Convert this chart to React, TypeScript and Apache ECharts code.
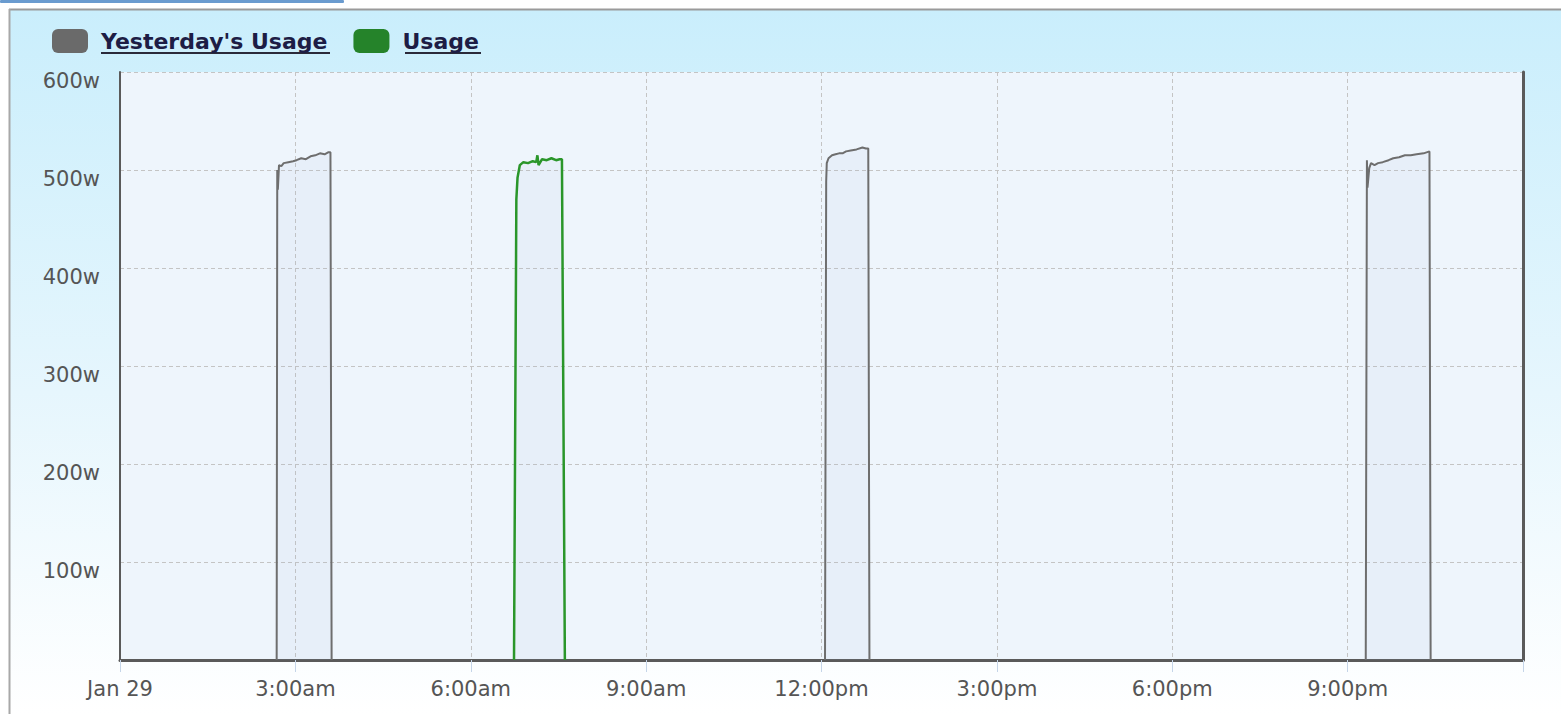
import React, { useEffect, useRef } from "react";
import * as echarts from "echarts";

// hours since midnight, watts
const yesterdayBlocks: number[][][] = [
  [[2.68, 0], [2.69, 500], [2.70, 480], [2.72, 505], [2.76, 504], [2.80, 507], [2.88, 508], [2.96, 509], [3.02, 510], [3.10, 512], [3.18, 511], [3.26, 514], [3.34, 515], [3.42, 517], [3.50, 516], [3.56, 518], [3.60, 518], [3.62, 0]],
  [[12.06, 0], [12.08, 488], [12.09, 507], [12.12, 512], [12.18, 515], [12.24, 516], [12.30, 517], [12.36, 517], [12.42, 519], [12.50, 520], [12.60, 521], [12.70, 523], [12.76, 522], [12.80, 522], [12.82, 0]],
  [[21.31, 0], [21.33, 510], [21.34, 482], [21.37, 502], [21.40, 507], [21.46, 505], [21.52, 507], [21.60, 508], [21.70, 510], [21.78, 512], [21.88, 513], [21.98, 515], [22.08, 515], [22.18, 516], [22.30, 517], [22.40, 519], [22.42, 0]],
];
const usageData: number[][] = [
  [6.74, 0], [6.78, 470], [6.80, 492], [6.84, 505], [6.90, 508], [6.98, 507], [7.06, 509], [7.12, 508], [7.14, 515], [7.16, 505], [7.22, 511], [7.30, 510], [7.38, 512], [7.46, 510], [7.52, 511], [7.56, 511], [7.61, 0],
];
const xTickLabels: Record<number, string> = {
  0: "Jan 29", 3: "3:00am", 6: "6:00am", 9: "9:00am", 12: "12:00pm", 15: "3:00pm", 18: "6:00pm", 21: "9:00pm", 24: "",
};
const yTickValues = [100, 200, 300, 400, 500, 600];

const FONT = "DejaVu Sans";

export default function App() {
  const ref = useRef<HTMLDivElement>(null);
  useEffect(() => {
    if (!ref.current) return;
    const chart = echarts.init(ref.current, undefined, { renderer: "svg" });
    const grayColor = "#6e6e6e";
    const greenColor = "#2a962a";
    const yesterdaySeries = yesterdayBlocks.map((blk) => ({
      name: "Yesterday's Usage",
      type: "line",
      data: blk,
      showSymbol: false,
      symbol: "none",
      lineStyle: { color: grayColor, width: 2 },
      itemStyle: { color: "#6a6a6a" },
      areaStyle: { color: "rgba(160,185,215,0.12)" },
      z: 3,
    }));
    chart.setOption({
      animation: false,
      backgroundColor: new echarts.graphic.LinearGradient(0, 0, 0, 1, [
        { offset: 0, color: "#c9eefc" },
        { offset: 0.55, color: "#e6f6fd" },
        { offset: 1, color: "#ffffff" },
      ]),
      legend: {
        left: 52,
        top: 29,
        padding: 0,
        itemWidth: 36,
        itemHeight: 24,
        itemGap: 26,
        icon: "roundRect",
        textStyle: { fontFamily: FONT, fontSize: 22, fontWeight: "bold", color: "#1d1d45", padding: [0, 0, 0, 8] },
        data: [
          { name: "Yesterday's Usage", itemStyle: { color: "#6a6a6a" } },
          { name: "Usage", itemStyle: { color: "#25832a" } },
        ],
      },
      grid: {
        left: 120, top: 72, right: 38, bottom: 54,
        show: true, backgroundColor: "#eef5fc", borderWidth: 0,
      },
      xAxis: {
        type: "value", min: 0, max: 24, interval: 3,
        axisLine: { show: true, lineStyle: { color: "#5a5a5a", width: 3 } },
        axisTick: { show: true, length: 12, lineStyle: { color: "#c5d5e8", width: 1 } },
        axisLabel: {
          fontFamily: FONT, fontSize: 21, color: "#555", margin: 18,
          formatter: (v: number) => xTickLabels[v] ?? "",
        },
        splitLine: { show: true, lineStyle: { color: "#c4c4c4", type: [4, 3], width: 1 } },
      },
      yAxis: [
        {
          type: "value", min: 0, max: 600, interval: 100,
          axisLine: { show: true, lineStyle: { color: "#5a5a5a", width: 2 } },
          axisTick: { show: false },
          axisLabel: {
            fontFamily: FONT, fontSize: 21, color: "#555", margin: 20,
            verticalAlign: "top", lineHeight: 17,
            formatter: (v: number) => (yTickValues.includes(v) ? `${v}w` : ""),
          },
          splitLine: { show: true, lineStyle: { color: "#c4c4c4", type: [4, 3], width: 1 } },
        },
        {
          type: "value", min: 0, max: 600, interval: 100, position: "right",
          axisLine: { show: true, lineStyle: { color: "#5a5a5a", width: 3 } },
          axisTick: { show: false }, axisLabel: { show: false }, splitLine: { show: false },
        },
      ],
      graphic: [
        { type: "rect", shape: { x: 0, y: 0, width: 1561, height: 9 }, style: { fill: "#ffffff" }, z: 1 },
        { type: "rect", shape: { x: 0, y: 0, width: 9, height: 714 }, style: { fill: "#ffffff" }, z: 1 },
        { type: "line", shape: { x1: 9, y1: 9.5, x2: 1561, y2: 9.5 }, style: { stroke: "#9a9a9a", lineWidth: 2 }, z: 1 },
        { type: "line", shape: { x1: 9.5, y1: 9, x2: 9.5, y2: 714 }, style: { stroke: "#a8a8a8", lineWidth: 2 }, z: 1 },
        { type: "rect", shape: { x: 0, y: 0, width: 344, height: 3, r: 1 }, style: { fill: "#6a9bcf" }, z: 1 },
        { type: "line", shape: { x1: 101, y1: 53, x2: 330, y2: 53 }, style: { stroke: "#2a2a3a", lineWidth: 2 }, z: 1 },
        { type: "line", shape: { x1: 405, y1: 53, x2: 481, y2: 53 }, style: { stroke: "#2a2a3a", lineWidth: 2 }, z: 1 },
      ],
      series: [
        ...yesterdaySeries,
        {
          name: "Usage",
          type: "line",
          data: usageData,
          showSymbol: false,
          symbol: "none",
          lineStyle: { color: greenColor, width: 2.5 },
          itemStyle: { color: "#25832a" },
          areaStyle: { color: "rgba(160,185,215,0.12)" },
          z: 4,
        },
      ],
    });
    return () => chart.dispose();
  }, []);
  return <div ref={ref} style={{ position: "fixed", left: 0, top: 0, width: 1561, height: 714 }} />;
}
